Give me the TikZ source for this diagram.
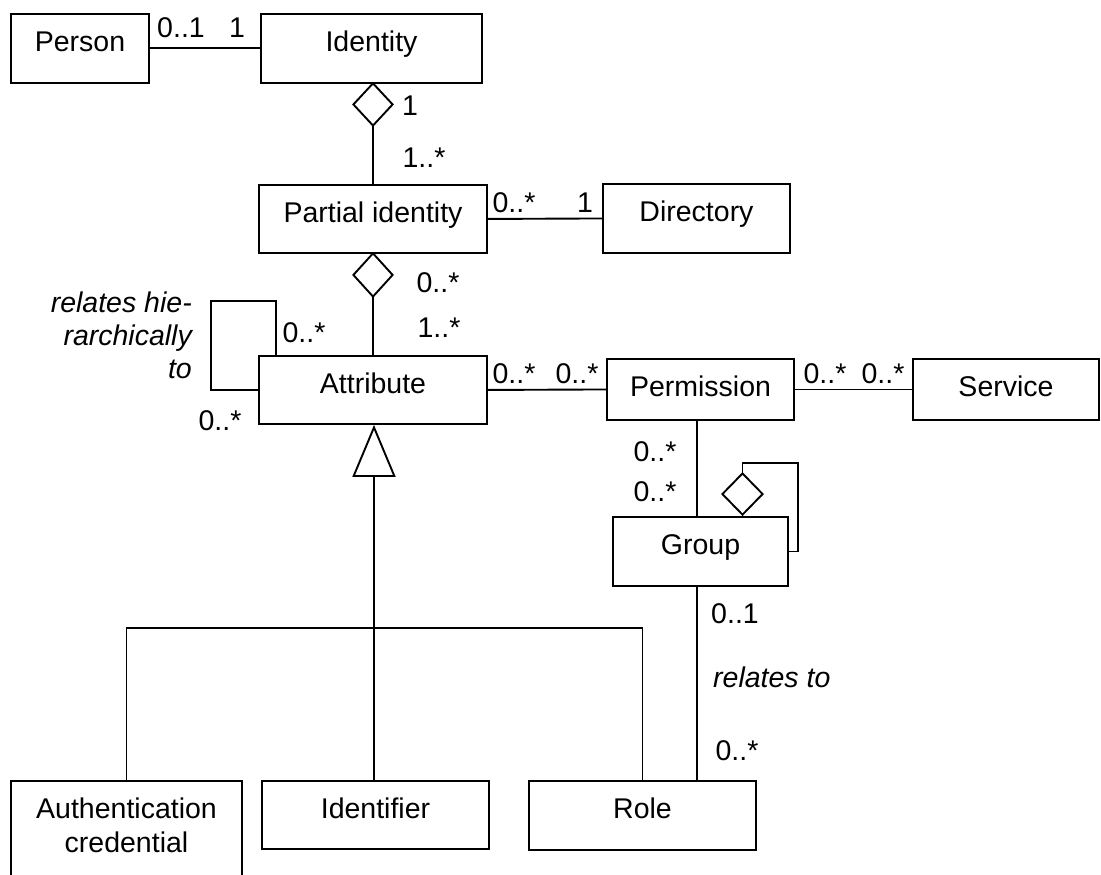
\documentclass[tikz,border=0pt]{standalone}
\usepackage{fontspec}
\setmainfont{Liberation Sans}
\usetikzlibrary{shapes.geometric,arrows.meta}

\tikzset{
  every node/.style={font=\fontsize{28.5}{34}\selectfont},
  conn/.style={line width=1.9pt, line cap=rect},
  cls/.style={draw, line width=1.9pt, rectangle, inner sep=0pt, anchor=north,
              text height=38pt, text depth=#1},
  cls/.default=31pt,
  agg/.style={draw, line width=1.9pt, diamond, fill=white, inner sep=0pt,
              minimum width=40pt, minimum height=43pt},
  mult/.style={inner sep=0pt, anchor=base},
  role/.style={inner sep=0pt, font=\fontsize{28.5}{34}\selectfont\itshape},
  gen/.style={line width=1.9pt, -{Triangle[open, length=52pt, width=43pt, line width=1.9pt]}},
}

\begin{document}
\begin{tikzpicture}[x=1pt, y=-1pt]
  \useasboundingbox (0,0) rectangle (1101,875);
  \clip (0,0) rectangle (1101,875);

  % classes
  \node[cls, minimum width=138pt] (Person)   at (80,13)     {Person};
  \node[cls, minimum width=221pt] (Identity) at (371.5,13)  {Identity};
  \node[cls=30pt, minimum width=228pt] (PI)  at (373,184)   {Partial identity};
  \node[cls, minimum width=187pt] (Dir)      at (696.5,183) {Directory};
  \node[cls=30pt, minimum width=228pt] (Attr) at (373,355)  {Attribute};
  \node[cls=23pt, minimum width=187pt] (Perm) at (700.5,358) {Permission};
  \node[cls=23pt, minimum width=186pt] (Serv) at (1006,358) {Service};
  \node[cls, minimum width=175pt] (Group)    at (700.5,516) {Group};
  \node[cls, minimum width=227pt] (Role)     at (642.5,780) {Role};
  \node[cls=30pt, minimum width=227pt] (Idf) at (375.5,780) {Identifier};
  \node[cls=150pt, minimum width=231pt] (Auth) at (126.5,780)
       {\begin{tabular}[t]{@{}c@{}}Authentication\\credential\end{tabular}};

  % aggregation diamonds
  \node[agg, anchor=north] (d1) at (373,82) {};
  \node[agg, anchor=north, minimum height=44pt] (d2) at (373,252) {};
  \node[agg, anchor=south, minimum width=41pt, minimum height=42pt] (d3) at (742.5,516) {};

  % helper points for bent connectors
  \coordinate (pg) at (697,0);
  \coordinate (al) at (276,0);
  \coordinate (aloop) at (211,301);
  \coordinate (gloop) at (798,463);
  \coordinate (gj) at (374,628);

  % associations
  \draw[conn] (Person.east) -- (Identity.west);
  \draw[conn] (d1.south) -- (d1.south |- PI.north);
  \draw[conn] (PI.east) -- (Dir.west);
  \draw[conn] (d2.south) -- (d2.south |- Attr.north);
  \draw[conn] (Attr.north -| al) |- (aloop) |- (Attr.west);
  \draw[conn] (Attr.east) -- (Perm.west);
  \draw[conn] (Perm.east) -- (Serv.west);
  \draw[conn] (Perm.south -| pg) -- (Group.north -| pg);
  \draw[conn] (d3.north) |- (gloop) |- (Group.east);
  \draw[conn] (Group.south -| pg) -- (Role.north -| pg);

  % generalization
  \draw[gen] (gj) -- (gj |- Attr.south);
  \draw[conn] (Auth.north) |- (gj) -| (Role.north);
  \draw[conn] (gj) -- (gj |- Idf.north);

  % multiplicities
  \node[mult] (m1)  at (181,38)  {0..1};
  \node[mult] (m2)  at (237,38)  {1};
  \node[mult] (m3)  at (410,115) {1};
  \node[mult] (m4)  at (424,167) {1..*};
  \node[mult] (m5)  at (514,212) {0..*};
  \node[mult] (m6)  at (585,212) {1};
  \node[mult] (m7)  at (438,292) {0..*};
  \node[mult] (m8)  at (439,337) {1..*};
  \node[mult] (m9)  at (304,342) {0..*};
  \node[mult] (m10) at (220,430) {0..*};
  \node[mult] (m11) at (514,383) {0..*};
  \node[mult] (m12) at (577,383) {0..*};
  \node[mult] (m13) at (825,383) {0..*};
  \node[mult] (m14) at (883,383) {0..*};
  \node[mult] (m15) at (655,461) {0..*};
  \node[mult] (m16) at (655,501) {0..*};
  \node[mult] (m17) at (735,623) {0..1};
  \node[mult] (m18) at (737,760) {0..*};

  % association names
  \node[role, anchor=base west] (r1) at (713,687) {relates to};
  \node[role, anchor=base east] (h1) at (192,312) {relates hie-};
  \node[role, anchor=base east] (h2) at (192,345) {rarchically};
  \node[role, anchor=base east] (h3) at (192,378) {to};
\end{tikzpicture}
\end{document}
